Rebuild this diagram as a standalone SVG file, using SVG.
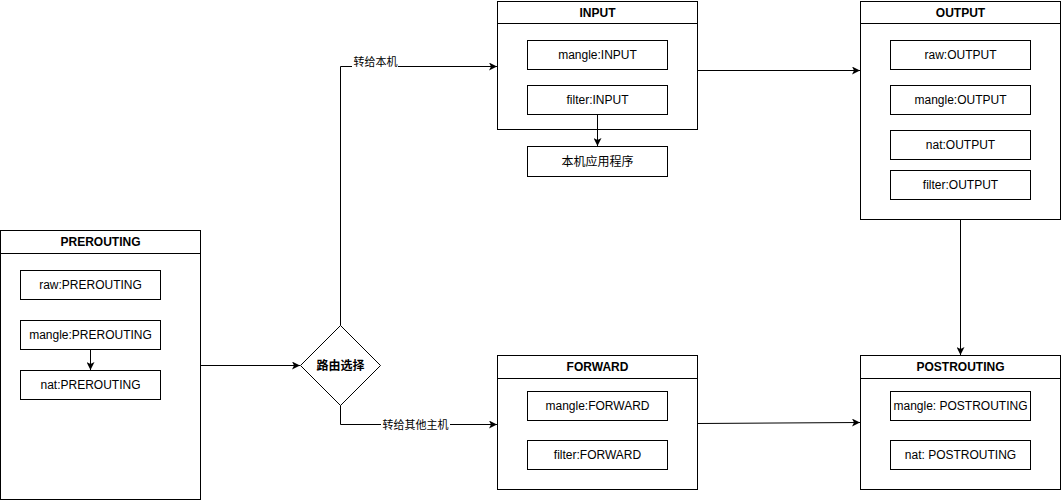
<svg xmlns="http://www.w3.org/2000/svg" width="1061" height="501" viewBox="0 0 1061 501">
  <style>
    .box { fill: #ffffff; stroke: #000000; stroke-width: 1; }
    .line { fill: none; stroke: #000000; stroke-width: 1; }
    .t { font-family: "Liberation Sans", "Noto Sans CJK SC", sans-serif; font-size: 12px; fill: #000000; text-anchor: middle; dominant-baseline: central; }
    .h { font-weight: bold; }
    .lbl { font-family: "Liberation Sans", "Noto Sans CJK SC", sans-serif; font-size: 11px; fill: #000000; text-anchor: middle; dominant-baseline: central; }
  </style>
  <defs>
    <marker id="arrow" viewBox="0 0 10 10" refX="10" refY="5" markerWidth="8" markerHeight="8" markerUnits="userSpaceOnUse" orient="auto">
      <path d="M0,0 L10,5 L0,10 L2.5,5 Z" fill="#000000"/>
    </marker>
  </defs>
  <rect x="0" y="0" width="1061" height="501" fill="#ffffff"/>

  <!-- PREROUTING chain -->
  <g id="prerouting">
    <rect class="box" x="0.5" y="230.5" width="200" height="269"/>
    <line class="line" x1="0.5" y1="253.5" x2="200.5" y2="253.5"/>
    <text class="t h" x="100.5" y="242">PREROUTING</text>
  </g>
  <g id="raw-prerouting">
    <rect class="box" x="20.5" y="270.5" width="140" height="29"/>
    <text class="t" x="90.5" y="285">raw:PREROUTING</text>
  </g>
  <g id="mangle-prerouting">
    <rect class="box" x="20.5" y="320.5" width="140" height="29"/>
    <text class="t" x="90.5" y="335">mangle:PREROUTING</text>
  </g>
  <g id="nat-prerouting">
    <rect class="box" x="20.5" y="370.5" width="140" height="29"/>
    <text class="t" x="90.5" y="385">nat:PREROUTING</text>
  </g>

  <!-- routing decision -->
  <g id="routing">
    <polygon class="box" points="340.5,325.5 380.5,365.5 340.5,405.5 300.5,365.5"/>
    <text class="t h" x="340.5" y="365.5">路由选择</text>
  </g>

  <!-- INPUT chain -->
  <g id="input">
    <rect class="box" x="497.5" y="1.5" width="200" height="128"/>
    <line class="line" x1="497.5" y1="23.5" x2="697.5" y2="23.5"/>
    <text class="t h" x="597.5" y="12.5">INPUT</text>
  </g>
  <g id="mangle-input">
    <rect class="box" x="527.5" y="40.5" width="140" height="29"/>
    <text class="t" x="597.5" y="55">mangle:INPUT</text>
  </g>
  <g id="filter-input">
    <rect class="box" x="527.5" y="85.5" width="140" height="29"/>
    <text class="t" x="597.5" y="100">filter:INPUT</text>
  </g>
  <g id="local-app">
    <rect class="box" x="527.5" y="146.5" width="140" height="30"/>
    <text class="t" x="597.5" y="161.5">本机应用程序</text>
  </g>

  <!-- OUTPUT chain -->
  <g id="output">
    <rect class="box" x="860.5" y="1.5" width="200" height="218"/>
    <line class="line" x1="860.5" y1="23.5" x2="1060.5" y2="23.5"/>
    <text class="t h" x="960.5" y="12.5">OUTPUT</text>
  </g>
  <g id="raw-output">
    <rect class="box" x="890.5" y="40.5" width="140" height="29"/>
    <text class="t" x="960.5" y="55">raw:OUTPUT</text>
  </g>
  <g id="mangle-output">
    <rect class="box" x="890.5" y="85.5" width="140" height="29"/>
    <text class="t" x="960.5" y="100">mangle:OUTPUT</text>
  </g>
  <g id="nat-output">
    <rect class="box" x="890.5" y="130.5" width="140" height="29"/>
    <text class="t" x="960.5" y="145">nat:OUTPUT</text>
  </g>
  <g id="filter-output">
    <rect class="box" x="890.5" y="170.5" width="140" height="29"/>
    <text class="t" x="960.5" y="185">filter:OUTPUT</text>
  </g>

  <!-- FORWARD chain -->
  <g id="forward">
    <rect class="box" x="497.5" y="355.5" width="200" height="134"/>
    <line class="line" x1="497.5" y1="378.5" x2="697.5" y2="378.5"/>
    <text class="t h" x="597.5" y="367">FORWARD</text>
  </g>
  <g id="mangle-forward">
    <rect class="box" x="527.5" y="391.5" width="140" height="29"/>
    <text class="t" x="597.5" y="406">mangle:FORWARD</text>
  </g>
  <g id="filter-forward">
    <rect class="box" x="527.5" y="440.5" width="140" height="29"/>
    <text class="t" x="597.5" y="455">filter:FORWARD</text>
  </g>

  <!-- POSTROUTING chain -->
  <g id="postrouting">
    <rect class="box" x="860.5" y="355.5" width="200" height="134"/>
    <line class="line" x1="860.5" y1="378.5" x2="1060.5" y2="378.5"/>
    <text class="t h" x="960.5" y="367">POSTROUTING</text>
  </g>
  <g id="mangle-postrouting">
    <rect class="box" x="890.5" y="391.5" width="140" height="29"/>
    <text class="t" x="960.5" y="406">mangle: POSTROUTING</text>
  </g>
  <g id="nat-postrouting">
    <rect class="box" x="890.5" y="440.5" width="140" height="29"/>
    <text class="t" x="960.5" y="455">nat: POSTROUTING</text>
  </g>

  <!-- connectors -->
  <g id="connectors">
    <line class="line" x1="90.5" y1="350" x2="90.5" y2="370" marker-end="url(#arrow)"/>
    <line class="line" x1="200.5" y1="365.5" x2="300" y2="365.5" marker-end="url(#arrow)"/>
    <polyline class="line" points="340.5,325.5 340.5,66.5 497,66.5" marker-end="url(#arrow)"/>
    <rect x="352" y="56" width="46" height="13" fill="#ffffff"/>
    <text class="lbl" x="375.5" y="62">转给本机</text>
    <polyline class="line" points="340.5,405.5 340.5,424.5 497,424.5" marker-end="url(#arrow)"/>
    <rect x="381" y="418" width="69" height="13" fill="#ffffff"/>
    <text class="lbl" x="415.5" y="424.5">转给其他主机</text>
    <line class="line" x1="597.5" y1="115" x2="597.5" y2="146" marker-end="url(#arrow)"/>
    <line class="line" x1="697.5" y1="70.5" x2="860" y2="70.5" marker-end="url(#arrow)"/>
    <line class="line" x1="960.5" y1="220" x2="960.5" y2="355" marker-end="url(#arrow)"/>
    <line class="line" x1="697.5" y1="423.5" x2="860" y2="422.5" marker-end="url(#arrow)"/>
  </g>
</svg>
